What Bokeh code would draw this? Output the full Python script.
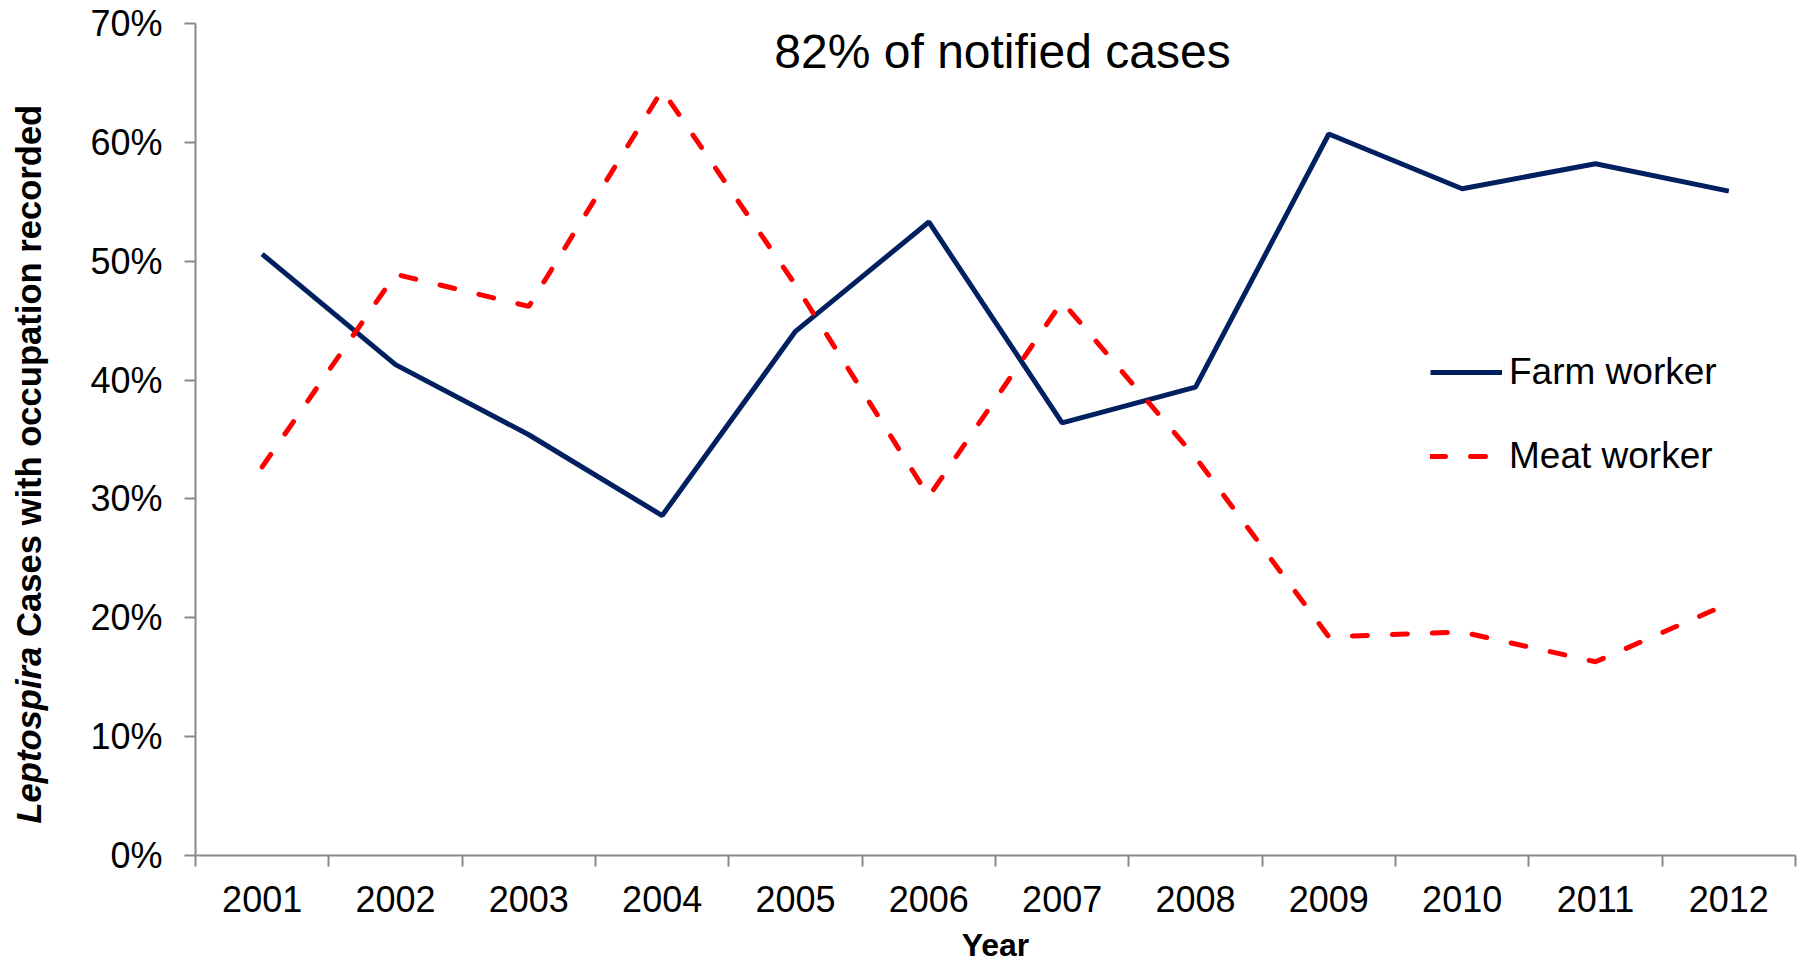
import math
from bokeh.plotting import figure
from bokeh.layouts import row
from bokeh.models import (Range1d, FixedTicker, PrintfTickFormatter, Label,
                          Legend, LegendItem)
from bokeh.embed import file_html
from bokeh.resources import INLINE

# ---------------- data ----------------
years = [2001, 2002, 2003, 2004, 2005, 2006, 2007, 2008, 2009, 2010, 2011, 2012]
farm_worker = [50.6, 41.3, 35.4, 28.6, 44.1, 53.3, 36.4, 39.4, 60.7, 56.1, 58.2, 55.9]
meat_worker = [32.7, 48.9, 46.2, 64.4, 48.0, 30.2, 46.6, 33.5, 18.4, 18.8, 16.3, 21.2]
y_ticks = [0, 10, 20, 30, 40, 50, 60, 70]
series_names = ["Farm worker", "Meat worker"]
title_text = "82% of notified cases"
x_title = "Year"
y_title_italic = "Leptospira"
y_title_rest = "Cases with occupation recorded"

FONT = "Liberation Sans"
AXIS_GRAY = "#898989"
NAVY = "#002060"
RED = "#FF0000"
H = 965
LABEL_W = 60

# ---------------- narrow figure holding the rotated y title ----------------
ylab = figure(width=LABEL_W, height=H, output_backend="svg", toolbar_location=None,
              x_axis_location=None, y_axis_location=None,
              x_range=Range1d(0, 1), y_range=Range1d(0, 1),
              min_border=0)
ylab.grid.visible = False
ylab.outline_line_color = None
ylab.background_fill_color = "white"
ylab.border_fill_color = "white"
ylab.add_layout(Label(x=28, y=32, x_units="screen", y_units="screen",
                      angle=math.pi / 2, text=y_title_italic,
                      text_align="left", text_baseline="alphabetic",
                      text_font=FONT, text_font_size="34.6px",
                      text_font_style="bold italic", text_color="black"))
ylab.add_layout(Label(x=28, y=218.5, x_units="screen", y_units="screen",
                      angle=math.pi / 2, text=y_title_rest,
                      text_align="left", text_baseline="alphabetic",
                      text_font=FONT, text_font_size="34.6px",
                      text_font_style="bold", text_color="black"))

# ---------------- main chart ----------------
p = figure(width=1808 - LABEL_W, height=H, output_backend="svg", toolbar_location=None,
           x_range=Range1d(years[0] - 0.5, years[-1] + 0.5),
           y_range=Range1d(y_ticks[0], y_ticks[-1]),
           min_border_left=195 - LABEL_W, min_border_right=13,
           min_border_top=23, min_border_bottom=108)
p.grid.visible = False
p.outline_line_color = None
p.background_fill_color = "white"
p.border_fill_color = "white"

r_farm = p.line(years, farm_worker, line_color=NAVY, line_width=5)
r_meat = p.line(years, meat_worker, line_color=RED, line_width=5,
                line_dash="15 25", line_cap="round")

# x axis: labels at category centres, ticks at category boundaries
xa = p.xaxis[0]
xa.ticker = FixedTicker(ticks=years,
                        minor_ticks=[y - 0.5 for y in years] + [years[-1] + 0.5])
xa.formatter = PrintfTickFormatter(format="%d")
xa.major_tick_out = 0
xa.major_tick_in = 0
xa.minor_tick_out = 11
xa.minor_tick_in = 0
xa.minor_tick_line_color = AXIS_GRAY
xa.minor_tick_line_width = 2
xa.axis_line_color = AXIS_GRAY
xa.axis_line_width = 2
xa.major_label_text_font = FONT
xa.major_label_text_font_size = "36px"
xa.major_label_text_color = "black"
xa.major_label_standoff = 19
xa.axis_label = x_title
xa.axis_label_text_font = FONT
xa.axis_label_text_font_size = "32px"
xa.axis_label_text_font_style = "bold"
xa.axis_label_text_color = "black"
xa.axis_label_standoff = 12

ya = p.yaxis[0]
ya.ticker = FixedTicker(ticks=y_ticks)
ya.formatter = PrintfTickFormatter(format="%d%%")
ya.major_tick_out = 11
ya.major_tick_in = 0
ya.major_tick_line_color = AXIS_GRAY
ya.major_tick_line_width = 2
ya.minor_tick_line_color = None
ya.axis_line_color = AXIS_GRAY
ya.axis_line_width = 2
ya.major_label_text_font = FONT
ya.major_label_text_font_size = "36px"
ya.major_label_text_color = "black"
ya.major_label_standoff = 22

# title inside the plot area
p.add_layout(Label(x=807, y=804, x_units="screen", y_units="screen",
                   text=title_text, text_align="center", text_baseline="alphabetic",
                   text_font=FONT, text_font_size="48px", text_color="black"))

legend = Legend(items=[LegendItem(label=series_names[0], renderers=[r_farm]),
                       LegendItem(label=series_names[1], renderers=[r_meat])],
                location=(1235, 377), orientation="vertical",
                glyph_width=72, glyph_height=44, label_height=44,
                label_standoff=7, spacing=40, padding=0, margin=0,
                border_line_alpha=0, background_fill_alpha=0,
                label_text_font=FONT, label_text_font_size="37px",
                label_text_color="black")
p.add_layout(legend)

layout = row(ylab, p)
open("out.html", "w").write(file_html(layout, INLINE))
